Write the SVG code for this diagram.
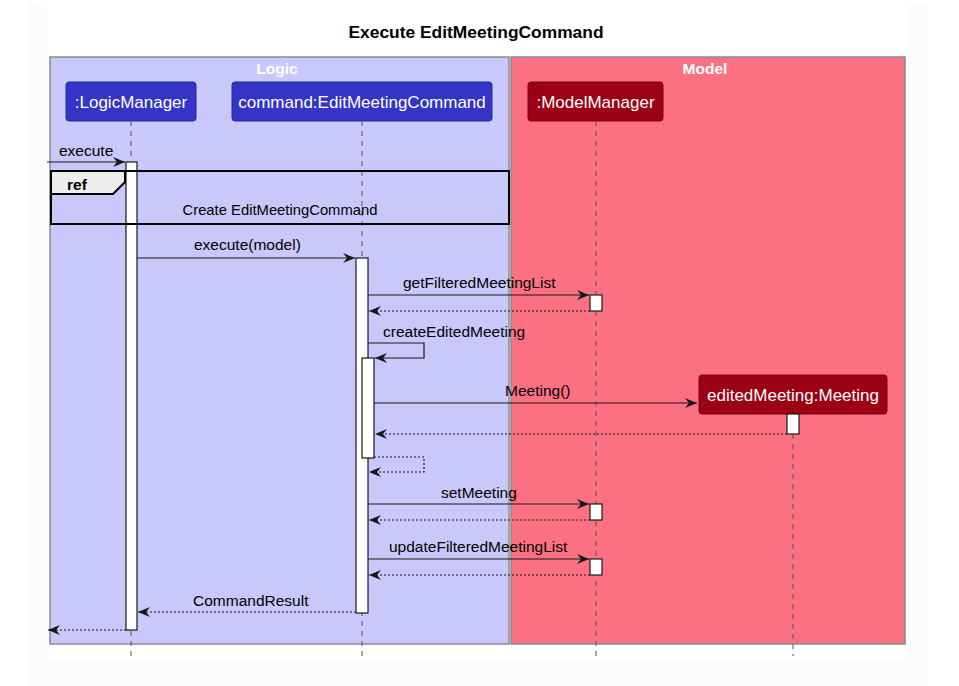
<svg xmlns="http://www.w3.org/2000/svg" width="959" height="686" viewBox="0 0 959 686">
<style>
.msg{font-family:"Liberation Sans",Arial,sans-serif;font-size:15.5px;fill:#000}
.pt{font-family:"Liberation Sans",Arial,sans-serif;font-size:17px;fill:#fff;text-anchor:middle}
.bx{font-family:"Liberation Sans",Arial,sans-serif;font-size:15.5px;font-weight:bold;fill:#fff;text-anchor:middle}
.life{stroke:#555;stroke-width:1;stroke-dasharray:5,5;fill:none}
.call{stroke:#181818;stroke-width:1.2;fill:none;marker-end:url(#ah)}
.ret{stroke:#181818;stroke-width:1.2;fill:none;stroke-dasharray:2,2;marker-end:url(#ah)}
.act{fill:#fff;stroke:#181818;stroke-width:1.2}
.pb{fill:#3434c6;stroke:#28289a;stroke-width:1}
.pr{fill:#9c0014;stroke:#7a0010;stroke-width:1}
</style>
<defs>
<marker id="ah" viewBox="0 0 12 10" refX="12" refY="5" markerWidth="12" markerHeight="10" markerUnits="userSpaceOnUse" orient="auto">
<path d="M0,0 L12,5 L0,10 L4,5 Z" fill="#181818"/>
</marker>
</defs>
<rect x="0" y="0" width="959" height="686" fill="#ffffff"/>
<rect x="28" y="2" width="900" height="684" fill="#fcfcfc"/>
<rect x="47" y="2" width="863" height="656" fill="#ffffff"/>
<text x="476" y="38" text-anchor="middle" style="font-family:'Liberation Sans',Arial,sans-serif;font-size:17.4px;font-weight:bold" fill="#000">Execute EditMeetingCommand</text>

<g id="box-logic">
<rect x="50" y="57" width="459" height="587" fill="#c8c8fa" stroke="#8a8a96" stroke-width="1.5"/>
<text x="277" y="74" class="bx">Logic</text>
</g>
<g id="box-model">
<rect x="511" y="57" width="394" height="587" fill="#fb7182" stroke="#8a8a8a" stroke-width="1.5"/>
<text x="705" y="74" class="bx">Model</text>
</g>

<g id="logicManager">
<line x1="131" y1="121" x2="131" y2="656" class="life"/>
<rect x="66" y="82" width="130" height="39" rx="3" class="pb"/>
<text x="131" y="108" class="pt">:LogicManager</text>
</g>
<g id="editMeetingCommand">
<line x1="362" y1="121" x2="362" y2="656" class="life"/>
<rect x="232" y="82" width="260" height="39" rx="3" class="pb"/>
<text x="362" y="108" class="pt">command:EditMeetingCommand</text>
</g>
<g id="modelManager">
<line x1="596" y1="121" x2="596" y2="656" class="life"/>
<rect x="528" y="82" width="135" height="39" rx="3" class="pr"/>
<text x="595.5" y="108" class="pt">:ModelManager</text>
</g>
<g id="editedMeeting">
<line x1="793" y1="414" x2="793" y2="656" class="life"/>
<rect x="699" y="375" width="188" height="39" rx="3" class="pr"/>
<text x="793" y="401" class="pt">editedMeeting:Meeting</text>
</g>

<g id="activations">
<rect x="126" y="162" width="11" height="468" class="act"/>
<rect x="356" y="258" width="12" height="355" class="act"/>
<rect x="362" y="358" width="12" height="100" class="act"/>
<rect x="590" y="295" width="12" height="16" class="act"/>
<rect x="787" y="414" width="12" height="20" class="act"/>
<rect x="590" y="504" width="12" height="16" class="act"/>
<rect x="590" y="559" width="12" height="16" class="act"/>
</g>

<g id="ref">
<rect x="51" y="171" width="458" height="53" fill="none" stroke="#000" stroke-width="2"/>
<path d="M51,171 H125 V182 L113,194 H51 Z" fill="#eeeeee" stroke="#000" stroke-width="2"/>
<text x="67" y="190" style="font-family:'Liberation Sans',Arial,sans-serif;font-size:15.5px;font-weight:bold" fill="#000">ref</text>
<text x="280" y="215" class="msg" text-anchor="middle" style="font-size:14.8px">Create EditMeetingCommand</text>
</g>

<g id="connectors">
<line x1="47" y1="162" x2="125" y2="162" class="call"/>
<text x="59" y="156" class="msg">execute</text>
<line x1="137" y1="258" x2="355" y2="258" class="call"/>
<text x="194" y="250" class="msg">execute(model)</text>
<line x1="368" y1="295" x2="589" y2="295" class="call"/>
<text x="403" y="288" class="msg">getFilteredMeetingList</text>
<line x1="590" y1="311" x2="369" y2="311" class="ret"/>
<path d="M368,343 H424 V358 H375" class="call"/>
<text x="383" y="337" class="msg">createEditedMeeting</text>
<line x1="374" y1="403" x2="697" y2="403" class="call"/>
<text x="505" y="396" class="msg">Meeting()</text>
<line x1="787" y1="434" x2="375" y2="434" class="ret"/>
<path d="M374,457 H424 V472 H369" class="ret"/>
<line x1="368" y1="504" x2="589" y2="504" class="call"/>
<text x="441" y="498" class="msg">setMeeting</text>
<line x1="590" y1="520" x2="369" y2="520" class="ret"/>
<line x1="368" y1="559" x2="589" y2="559" class="call"/>
<text x="389" y="552" class="msg">updateFilteredMeetingList</text>
<line x1="590" y1="575" x2="369" y2="575" class="ret"/>
<line x1="356" y1="612" x2="138" y2="612" class="ret"/>
<text x="193" y="606" class="msg">CommandResult</text>
<line x1="126" y1="630" x2="48" y2="630" class="ret"/>
</g>
</svg>
